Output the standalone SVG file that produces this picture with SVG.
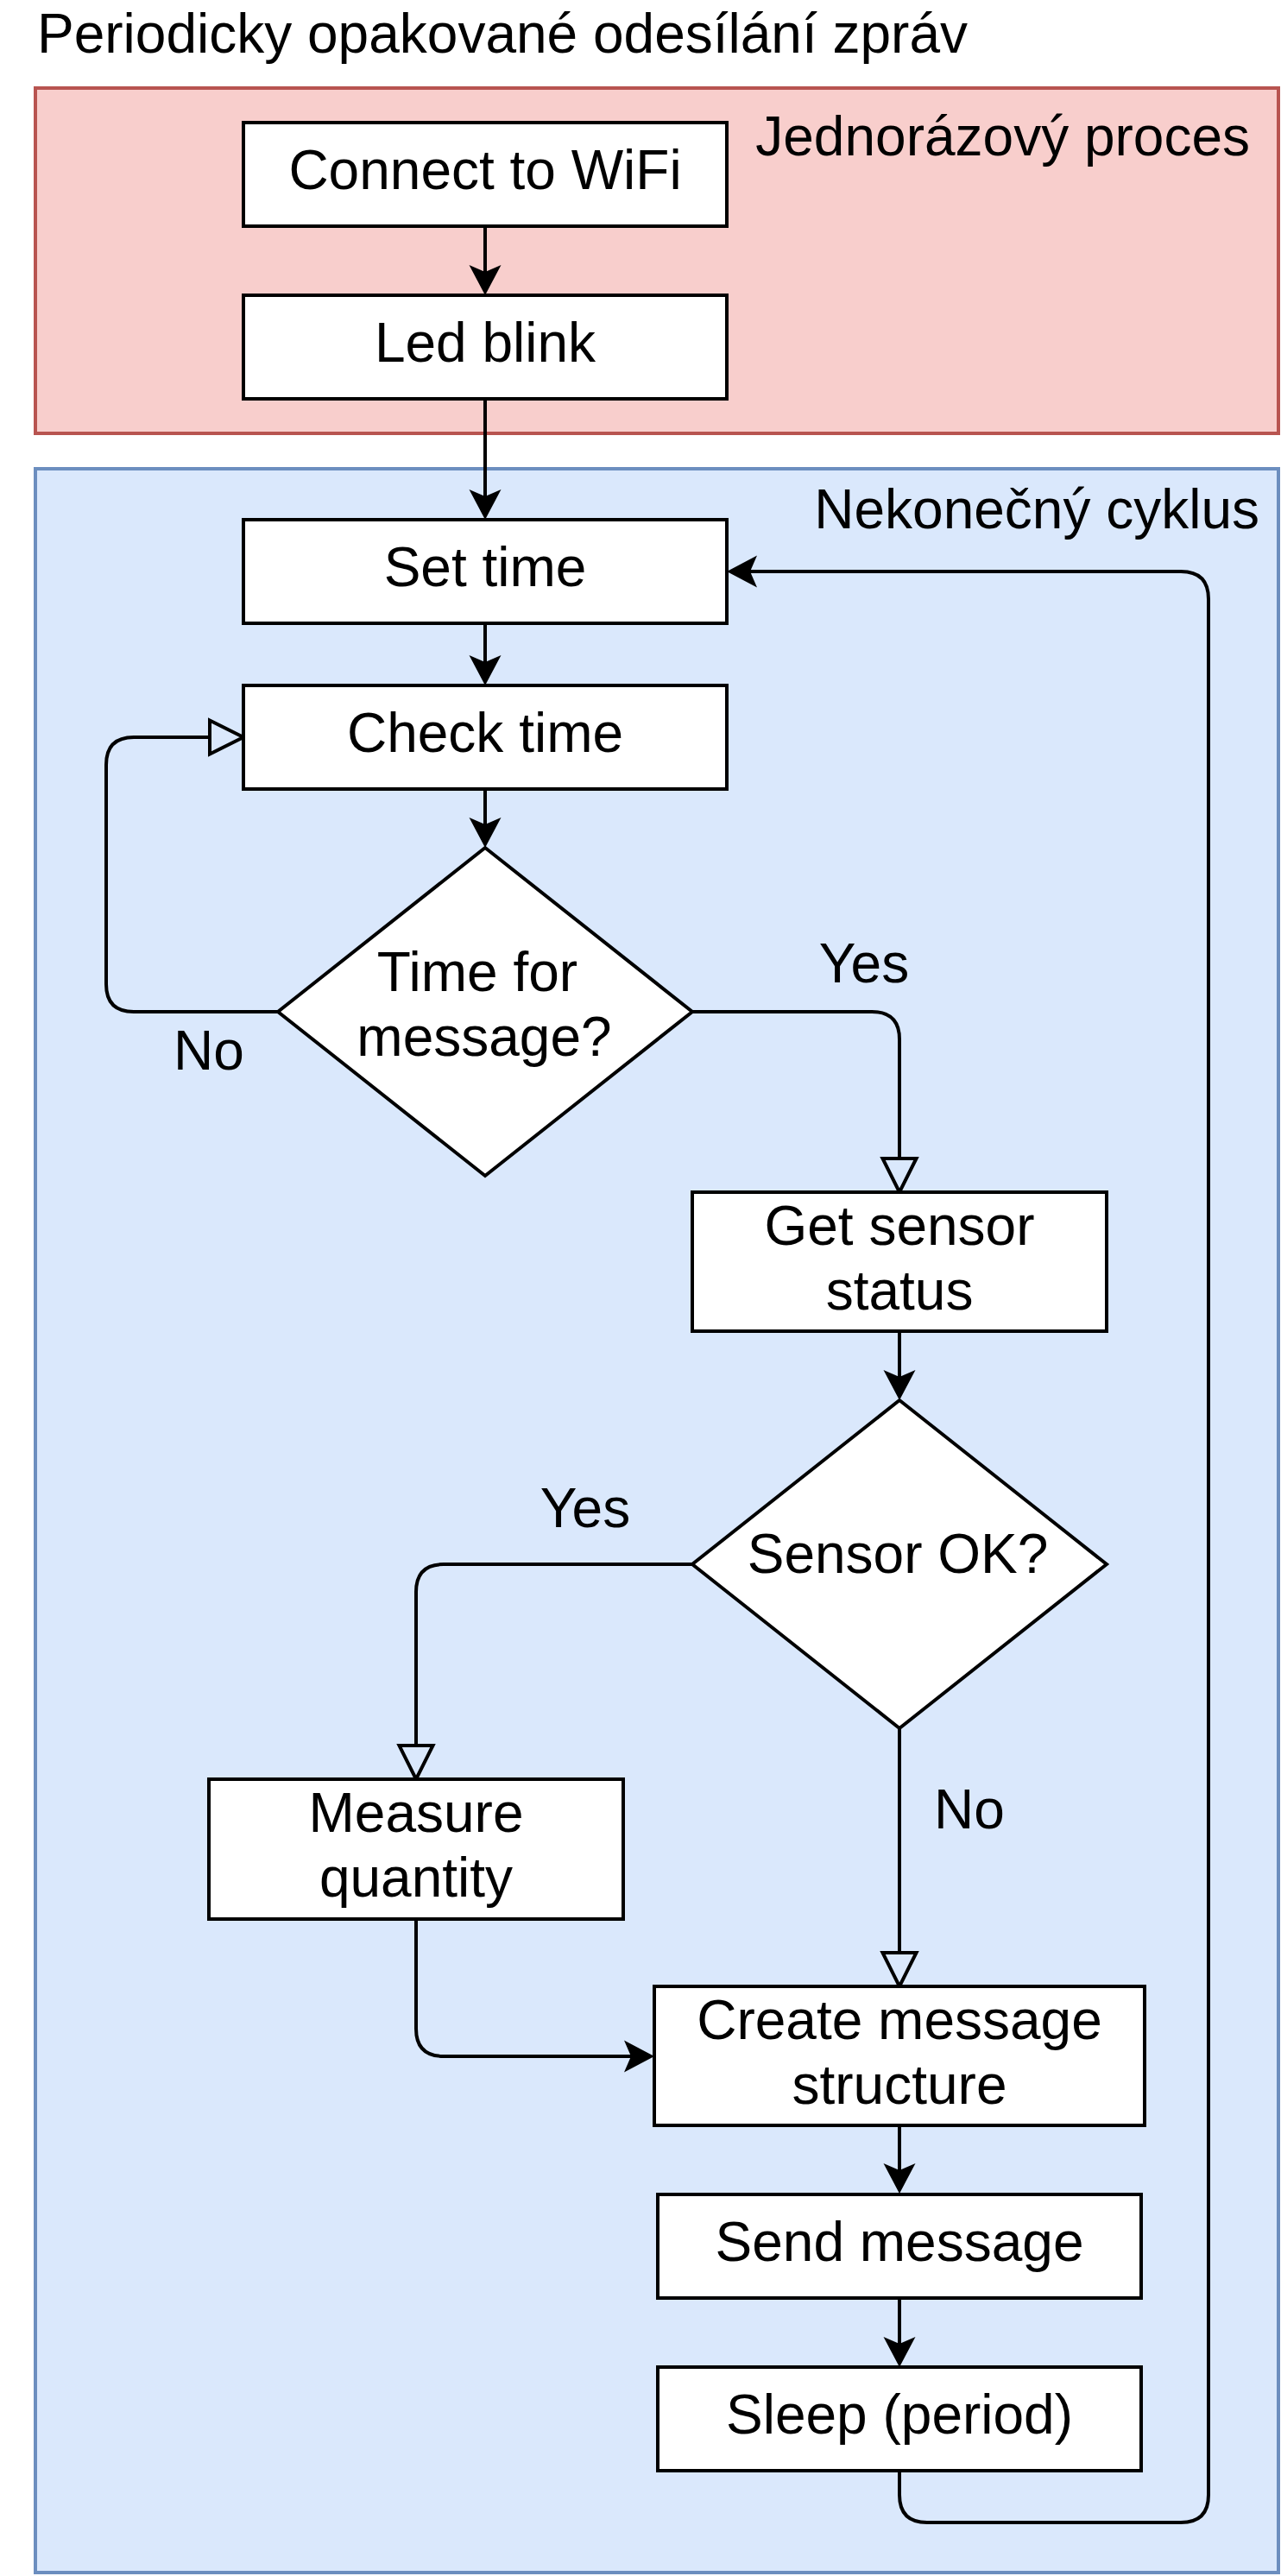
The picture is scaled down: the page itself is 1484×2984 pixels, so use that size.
<svg xmlns="http://www.w3.org/2000/svg" width="1484" height="2984" viewBox="0 0 1484 2984">
<style>
text{font-family:"Liberation Sans",Arial,Helvetica,sans-serif;font-size:64px;fill:#000}
.c{text-anchor:middle}
.box{fill:#fff;stroke:#000;stroke-width:4}
.edge{fill:none;stroke:#000;stroke-width:4}
</style>
<defs>
<marker id="arr" markerUnits="userSpaceOnUse" markerWidth="80" markerHeight="80" refX="0" refY="0" orient="auto" overflow="visible">
<path d="M27,0 L-8,-18.5 L0,0 L-8,18.5 Z" fill="#000"/>
</marker>
<marker id="open" markerUnits="userSpaceOnUse" markerWidth="80" markerHeight="80" refX="0" refY="0" orient="auto" overflow="visible">
<path d="M0,-19.5 L39,0 L0,19.5 Z" fill="none" stroke="#000" stroke-width="4"/>
</marker>
</defs>
<rect width="1484" height="2984" fill="#fff"/>
<text x="43" y="61">Periodicky opakované odesílání zpráv</text>
<g id="container-once">
<rect x="41" y="102" width="1440" height="400" fill="#f8cecc" stroke="#b85450" stroke-width="4"/>
<text x="1448" y="180" text-anchor="end">Jednorázový proces</text>
</g>
<g id="container-loop">
<rect x="41" y="543" width="1440" height="2437" fill="#dae8fc" stroke="#6c8ebf" stroke-width="4"/>
<text x="1459" y="612" text-anchor="end">Nekonečný cyklus</text>
</g>
<g id="connectors">
<path class="edge" d="M562,262 L562,315" marker-end="url(#arr)"/>
<path class="edge" d="M562,462 L562,575" marker-end="url(#arr)"/>
<path class="edge" d="M562,722 L562,767" marker-end="url(#arr)"/>
<path class="edge" d="M562,914 L562,955" marker-end="url(#arr)"/>
<path class="edge" d="M322,1172 L155,1172 Q123,1172 123,1140 L123,886 Q123,854 155,854 L243,854" marker-end="url(#open)"/>
<path class="edge" d="M802,1172 L1010,1172 Q1042,1172 1042,1204 L1042,1342" marker-end="url(#open)"/>
<path class="edge" d="M1042,1542 L1042,1595" marker-end="url(#arr)"/>
<path class="edge" d="M802,1812 L514,1812 Q482,1812 482,1844 L482,2022" marker-end="url(#open)"/>
<path class="edge" d="M1042,2002 L1042,2262" marker-end="url(#open)"/>
<path class="edge" d="M482,2223 L482,2350 Q482,2382 514,2382 L731,2382" marker-end="url(#arr)"/>
<path class="edge" d="M1042,2462 L1042,2514" marker-end="url(#arr)"/>
<path class="edge" d="M1042,2662 L1042,2715" marker-end="url(#arr)"/>
<path class="edge" d="M1042,2862 L1042,2890 Q1042,2922 1074,2922 L1368,2922 Q1400,2922 1400,2890 L1400,694 Q1400,662 1368,662 L869,662" marker-end="url(#arr)"/>
<text class="c" x="1001" y="1138">Yes</text>
<text class="c" x="242" y="1239">No</text>
<text class="c" x="678" y="1769">Yes</text>
<text class="c" x="1123" y="2118">No</text>
</g>
<g id="connect-wifi">
<rect class="box" x="282" y="142" width="560" height="120"/>
<text class="c" x="562" y="219">Connect to WiFi</text>
</g>
<g id="led-blink">
<rect class="box" x="282" y="342" width="560" height="120"/>
<text class="c" x="562" y="419">Led blink</text>
</g>
<g id="set-time">
<rect class="box" x="282" y="602" width="560" height="120"/>
<text class="c" x="562" y="679">Set time</text>
</g>
<g id="check-time">
<rect class="box" x="282" y="794" width="560" height="120"/>
<text class="c" x="562" y="871">Check time</text>
</g>
<g id="time-for-message">
<polygon class="box" points="562,982 802,1172 562,1362 322,1172"/>
<text class="c" x="553" y="1148">Time for</text>
<text class="c" x="561" y="1223">message?</text>
</g>
<g id="get-sensor-status">
<rect class="box" x="802" y="1381" width="480" height="161"/>
<text class="c" x="1042" y="1442">Get sensor</text>
<text class="c" x="1042" y="1517">status</text>
</g>
<g id="sensor-ok">
<polygon class="box" points="1042,1622 1282,1812 1042,2002 802,1812"/>
<text class="c" x="1040" y="1822">Sensor OK?</text>
</g>
<g id="measure-quantity">
<rect class="box" x="242" y="2061" width="480" height="162"/>
<text class="c" x="482" y="2122">Measure</text>
<text class="c" x="482" y="2197">quantity</text>
</g>
<g id="create-message">
<rect class="box" x="758" y="2301" width="568" height="161"/>
<text class="c" x="1042" y="2362">Create message</text>
<text class="c" x="1042" y="2437">structure</text>
</g>
<g id="send-message">
<rect class="box" x="762" y="2542" width="560" height="120"/>
<text class="c" x="1042" y="2619">Send message</text>
</g>
<g id="sleep-period">
<rect class="box" x="762" y="2742" width="560" height="120"/>
<text class="c" x="1042" y="2819">Sleep (period)</text>
</g>
</svg>
